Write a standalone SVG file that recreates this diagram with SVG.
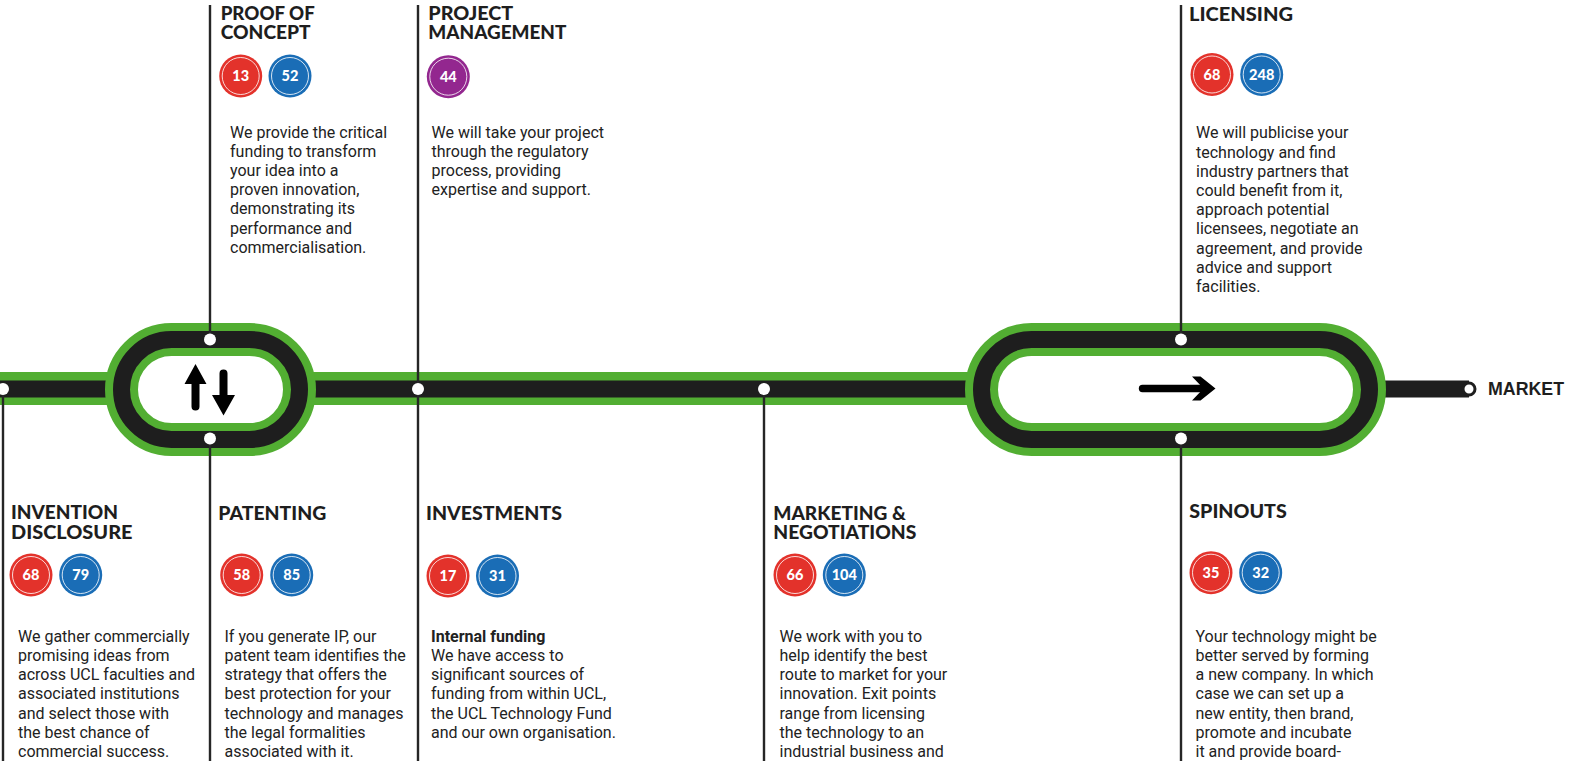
<svg xmlns="http://www.w3.org/2000/svg" width="1579" height="761" viewBox="0 0 1579 761">
<defs>
<style>
.title{font-family:Lato,"Liberation Sans",sans-serif;font-weight:900;font-size:18px;fill:#1e1e1e}
.body{font-family:Roboto,"Liberation Sans",sans-serif;font-size:16px;fill:#222}
.bold{font-weight:700}
.num{font-family:Lato,"Liberation Sans",sans-serif;font-weight:900;font-size:14.5px;fill:#fff;text-anchor:middle}
.red{fill:#e3322b}
.blue{fill:#1a6db6}
.purple{fill:#93278f}
.ring{fill:none;stroke:#fff;stroke-width:0.9;stroke-opacity:0.9}
.vline{stroke:#262626;stroke-width:2.4;fill:none}
.dot{fill:#fff}
</style>
</defs>
<rect width="1579" height="761" fill="#fff"/>

<g id="track">
  <rect x="0" y="372" width="990" height="33" fill="#52ae32"/>
  <rect x="0" y="380.5" width="1469" height="17" fill="#1e1e1e"/>
  <rect x="121.5" y="339.5" width="178" height="100" rx="50" fill="#fff" stroke="#52ae32" stroke-width="33"/>
  <rect x="121.5" y="339.5" width="178" height="100" rx="50" fill="none" stroke="#1e1e1e" stroke-width="17"/>
  <rect x="981.5" y="339.5" width="388" height="100" rx="50" fill="#fff" stroke="#52ae32" stroke-width="33"/>
  <rect x="981.5" y="339.5" width="388" height="100" rx="50" fill="none" stroke="#1e1e1e" stroke-width="17"/>
  <path d="M195.5,364 L206.5,384 L199.5,384 L199.5,406.5 Q199.5,410.5 195.5,410.5 Q191.5,410.5 191.5,406.5 L191.5,384 L184.5,384 Z" fill="#000"/>
  <path d="M223.5,415.5 L235,395 L227.5,395 L227.5,373.5 Q227.5,369.5 223.5,369.5 Q219.5,369.5 219.5,373.5 L219.5,395 L212,395 Z" fill="#000"/>
  <path d="M1142.5,384.8 L1204,384.8 L1204,392.2 L1142.5,392.2 A3.7,3.7 0 0 1 1142.5,384.8 Z" fill="#000"/>
  <path d="M1192,376.5 L1200.5,376.5 L1215.5,388.5 L1200.5,400.5 L1192,400.5 L1203.5,388.5 Z" fill="#000"/>
</g>

<g id="connectors">
  <line class="vline" x1="3" y1="389" x2="3" y2="761"/>
  <line class="vline" x1="210" y1="5" x2="210" y2="339"/>
  <line class="vline" x1="210" y1="439" x2="210" y2="761"/>
  <line class="vline" x1="418" y1="5" x2="418" y2="761"/>
  <line class="vline" x1="764" y1="389" x2="764" y2="761"/>
  <line class="vline" x1="1181" y1="5" x2="1181" y2="339"/>
  <line class="vline" x1="1181" y1="439" x2="1181" y2="761"/>
</g>

<g id="stations">
  <circle class="dot" cx="3" cy="389" r="6"/>
  <circle class="dot" cx="210" cy="339.5" r="6"/>
  <circle class="dot" cx="210" cy="438.5" r="6"/>
  <circle class="dot" cx="418" cy="389" r="6"/>
  <circle class="dot" cx="764" cy="389" r="6"/>
  <circle class="dot" cx="1181" cy="339.5" r="6"/>
  <circle class="dot" cx="1181" cy="438.5" r="6"/>
</g>

<g id="market">
  <circle cx="1469" cy="389" r="6" fill="#fff" stroke="#1e1e1e" stroke-width="3"/>
  <text x="1488" y="395" font-family="'Liberation Sans',Arial,sans-serif" font-weight="700" font-size="18" fill="#1e1e1e" textLength="76" lengthAdjust="spacingAndGlyphs">MARKET</text>
</g>

<g id="proof-of-concept">
  <text class="title"><tspan x="220.7" y="19.5" textLength="94" lengthAdjust="spacingAndGlyphs">PROOF OF</tspan><tspan x="220.7" y="38.5" textLength="90" lengthAdjust="spacingAndGlyphs">CONCEPT</tspan></text>
  <circle class="red" cx="240.7" cy="76" r="21.5"/><circle class="ring" cx="240.7" cy="76" r="18.5"/>
  <text class="num" x="240.7" y="81">13</text>
  <circle class="blue" cx="290" cy="76" r="21.5"/><circle class="ring" cx="290" cy="76" r="18.5"/>
  <text class="num" x="290" y="81">52</text>
  <text class="body">
    <tspan x="230" y="137.5">We provide the critical</tspan>
    <tspan x="230" y="156.7">funding to transform</tspan>
    <tspan x="230" y="175.9">your idea into a</tspan>
    <tspan x="230" y="195.1">proven innovation,</tspan>
    <tspan x="230" y="214.3">demonstrating its</tspan>
    <tspan x="230" y="233.5">performance and</tspan>
    <tspan x="230" y="252.7">commercialisation.</tspan>
  </text>
</g>

<g id="project-management">
  <text class="title"><tspan x="428.3" y="19.5" textLength="85" lengthAdjust="spacingAndGlyphs">PROJECT</tspan><tspan x="428.3" y="38.5" textLength="138" lengthAdjust="spacingAndGlyphs">MANAGEMENT</tspan></text>
  <circle class="purple" cx="448.3" cy="76.7" r="21.5"/><circle class="ring" cx="448.3" cy="76.7" r="18.5"/>
  <text class="num" x="448.3" y="81.7">44</text>
  <text class="body">
    <tspan x="431.5" y="137.5">We will take your project</tspan>
    <tspan x="431.5" y="156.7">through the regulatory</tspan>
    <tspan x="431.5" y="175.9">process, providing</tspan>
    <tspan x="431.5" y="195.1">expertise and support.</tspan>
  </text>
</g>

<g id="licensing">
  <text class="title" x="1189" y="20.5" textLength="104" lengthAdjust="spacingAndGlyphs">LICENSING</text>
  <circle class="red" cx="1212" cy="74.5" r="21.5"/><circle class="ring" cx="1212" cy="74.5" r="18.5"/>
  <text class="num" x="1212" y="79.5">68</text>
  <circle class="blue" cx="1261.7" cy="74.5" r="21.5"/><circle class="ring" cx="1261.7" cy="74.5" r="18.5"/>
  <text class="num" x="1261.7" y="79.5">248</text>
  <text class="body">
    <tspan x="1196" y="138.3">We will publicise your</tspan>
    <tspan x="1196" y="157.5">technology and find</tspan>
    <tspan x="1196" y="176.7">industry partners that</tspan>
    <tspan x="1196" y="195.9">could benefit from it,</tspan>
    <tspan x="1196" y="215.1">approach potential</tspan>
    <tspan x="1196" y="234.3">licensees, negotiate an</tspan>
    <tspan x="1196" y="253.5">agreement, and provide</tspan>
    <tspan x="1196" y="272.7">advice and support</tspan>
    <tspan x="1196" y="291.9">facilities.</tspan>
  </text>
</g>

<g id="invention-disclosure">
  <text class="title"><tspan x="11" y="519.3" textLength="107" lengthAdjust="spacingAndGlyphs">INVENTION</tspan><tspan x="11" y="538.5" textLength="121.5" lengthAdjust="spacingAndGlyphs">DISCLOSURE</tspan></text>
  <circle class="red" cx="31" cy="575" r="21.5"/><circle class="ring" cx="31" cy="575" r="18.5"/>
  <text class="num" x="31" y="580">68</text>
  <circle class="blue" cx="80.7" cy="575" r="21.5"/><circle class="ring" cx="80.7" cy="575" r="18.5"/>
  <text class="num" x="80.7" y="580">79</text>
  <text class="body">
    <tspan x="18" y="641.7">We gather commercially</tspan>
    <tspan x="18" y="660.9">promising ideas from</tspan>
    <tspan x="18" y="680.1">across UCL faculties and</tspan>
    <tspan x="18" y="699.3">associated institutions</tspan>
    <tspan x="18" y="718.5">and select those with</tspan>
    <tspan x="18" y="737.7">the best chance of</tspan>
    <tspan x="18" y="756.9">commercial success.</tspan>
  </text>
</g>

<g id="patenting">
  <text class="title" x="218.3" y="519.5" textLength="108" lengthAdjust="spacingAndGlyphs">PATENTING</text>
  <circle class="red" cx="241.7" cy="575" r="21.5"/><circle class="ring" cx="241.7" cy="575" r="18.5"/>
  <text class="num" x="241.7" y="580">58</text>
  <circle class="blue" cx="291.7" cy="575" r="21.5"/><circle class="ring" cx="291.7" cy="575" r="18.5"/>
  <text class="num" x="291.7" y="580">85</text>
  <text class="body">
    <tspan x="224.5" y="641.7">If you generate IP, our</tspan>
    <tspan x="224.5" y="660.9">patent team identifies the</tspan>
    <tspan x="224.5" y="680.1">strategy that offers the</tspan>
    <tspan x="224.5" y="699.3">best protection for your</tspan>
    <tspan x="224.5" y="718.5">technology and manages</tspan>
    <tspan x="224.5" y="737.7">the legal formalities</tspan>
    <tspan x="224.5" y="756.9">associated with it.</tspan>
  </text>
</g>

<g id="investments">
  <text class="title" x="426" y="519.5" textLength="136" lengthAdjust="spacingAndGlyphs">INVESTMENTS</text>
  <circle class="red" cx="448" cy="576" r="21.5"/><circle class="ring" cx="448" cy="576" r="18.5"/>
  <text class="num" x="448" y="581">17</text>
  <circle class="blue" cx="497.5" cy="576" r="21.5"/><circle class="ring" cx="497.5" cy="576" r="18.5"/>
  <text class="num" x="497.5" y="581">31</text>
  <text class="body">
    <tspan x="431" y="641.7" class="bold">Internal funding</tspan>
    <tspan x="431" y="660.9">We have access to</tspan>
    <tspan x="431" y="680.1">significant sources of</tspan>
    <tspan x="431" y="699.3">funding from within UCL,</tspan>
    <tspan x="431" y="718.5">the UCL Technology Fund</tspan>
    <tspan x="431" y="737.7">and our own organisation.</tspan>
  </text>
</g>

<g id="marketing-negotiations">
  <text class="title"><tspan x="773.3" y="519.5" textLength="132.5" lengthAdjust="spacingAndGlyphs">MARKETING &amp;</tspan><tspan x="773.3" y="538.6" textLength="143" lengthAdjust="spacingAndGlyphs">NEGOTIATIONS</tspan></text>
  <circle class="red" cx="795" cy="575" r="21.5"/><circle class="ring" cx="795" cy="575" r="18.5"/>
  <text class="num" x="795" y="580">66</text>
  <circle class="blue" cx="844.3" cy="575" r="21.5"/><circle class="ring" cx="844.3" cy="575" r="18.5"/>
  <text class="num" x="844.3" y="580">104</text>
  <text class="body">
    <tspan x="779.5" y="641.7">We work with you to</tspan>
    <tspan x="779.5" y="660.9">help identify the best</tspan>
    <tspan x="779.5" y="680.1">route to market for your</tspan>
    <tspan x="779.5" y="699.3">innovation. Exit points</tspan>
    <tspan x="779.5" y="718.5">range from licensing</tspan>
    <tspan x="779.5" y="737.7">the technology to an</tspan>
    <tspan x="779.5" y="756.9">industrial business and</tspan>
  </text>
</g>

<g id="spinouts">
  <text class="title" x="1189.3" y="517.7" textLength="97.5" lengthAdjust="spacingAndGlyphs">SPINOUTS</text>
  <circle class="red" cx="1211" cy="572.7" r="21.5"/><circle class="ring" cx="1211" cy="572.7" r="18.5"/>
  <text class="num" x="1211" y="577.7">35</text>
  <circle class="blue" cx="1260.7" cy="572.7" r="21.5"/><circle class="ring" cx="1260.7" cy="572.7" r="18.5"/>
  <text class="num" x="1260.7" y="577.7">32</text>
  <text class="body">
    <tspan x="1195.5" y="641.7">Your technology might be</tspan>
    <tspan x="1195.5" y="660.9">better served by forming</tspan>
    <tspan x="1195.5" y="680.1">a new company. In which</tspan>
    <tspan x="1195.5" y="699.3">case we can set up a</tspan>
    <tspan x="1195.5" y="718.5">new entity, then brand,</tspan>
    <tspan x="1195.5" y="737.7">promote and incubate</tspan>
    <tspan x="1195.5" y="756.9">it and provide board-</tspan>
  </text>
</g>
</svg>
